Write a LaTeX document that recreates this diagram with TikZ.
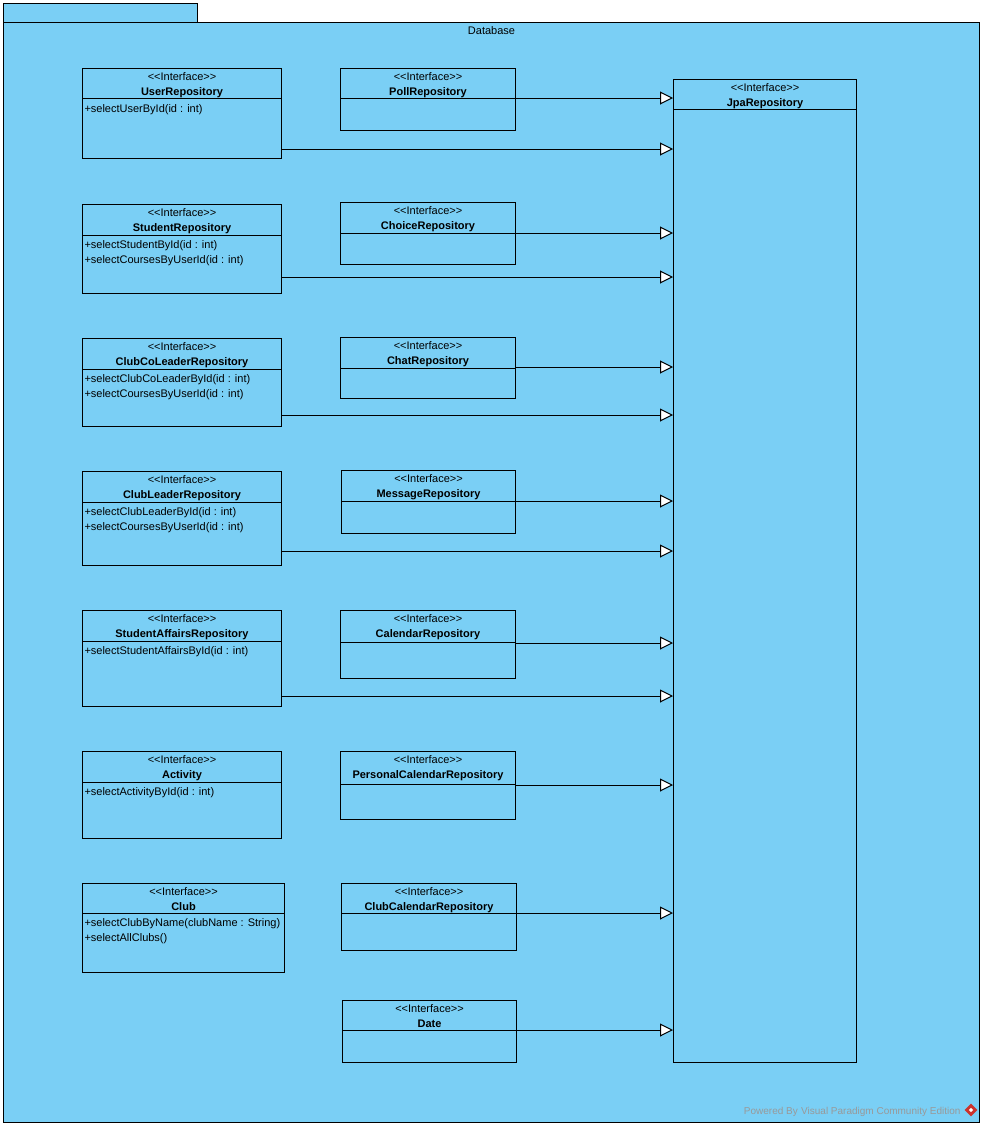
\documentclass[tikz,border=0pt]{standalone}
\usepackage{fontspec}
\setmainfont{Liberation Sans}
\usetikzlibrary{arrows.meta}
\definecolor{pkgblue}{RGB}{122,207,245}
\definecolor{vpred}{RGB}{204,51,45}
\newcommand{\ifacetag}{<\kern0pt<Interface>\kern0pt>}
\begin{document}
\begin{tikzpicture}[x=1pt, y=-1pt, line width=1pt,
  cls/.style = {draw, fill=pkgblue, anchor=north west, inner sep=0pt},
  stereo/.style = {anchor=base, inner sep=0pt, font=\fontsize{11}{13}\selectfont},
  cname/.style = {anchor=base, inner sep=0pt, font=\fontsize{11}{13}\selectfont\bfseries},
  op/.style = {anchor=base west, inner sep=0pt, font=\fontsize{11}{13}\selectfont},
  realize/.style = {-{Triangle[length=13pt, width=13pt, fill=white]}}]
  \useasboundingbox (0,0) rectangle (984,1127);
  % package
  \node[cls, minimum width=194, minimum height=19] (tab) at (3,3) {};
  \node[cls, minimum width=976, minimum height=1100] (db) at (3,22) {};
  \node[stereo] at ([yshift=-12]db.north) {Database};
  \node[anchor=base east, inner sep=0pt, text=black!40, font=\fontsize{10}{12}\selectfont] (vp) at (961,1114) {Powered By\,\,Visual Paradigm Community Edition};
  \node[draw=none, fill=vpred, rotate=45, minimum size=9, inner sep=0pt] (vplogo) at (971,1110) {};
  \node[draw=none, fill=white, rotate=45, minimum size=3, inner sep=0pt] at (vplogo.center) {};

  % JpaRepository
  \node[cls, minimum width=183, minimum height=983] (jpa) at (673,79) {};
  \node[stereo] at ([yshift=-12]jpa.north) {\ifacetag};
  \node[cname] at ([yshift=-27]jpa.north) {JpaRepository};
  \draw ([yshift=-30]jpa.north west) -- ([yshift=-30]jpa.north east);

  % left column
  \node[cls, minimum width=199, minimum height=90] (user) at (82,68) {};
  \node[stereo] at ([yshift=-12]user.north) {\ifacetag};
  \node[cname] at ([yshift=-27]user.north) {UserRepository};
  \draw ([yshift=-30]user.north west) -- ([yshift=-30]user.north east);
  \node[op] at ([xshift=2,yshift=-44]user.north west) {+selectUserById(id : int)};

  \node[cls, minimum width=199, minimum height=89] (student) at (82,204) {};
  \node[stereo] at ([yshift=-12]student.north) {\ifacetag};
  \node[cname] at ([yshift=-27]student.north) {StudentRepository};
  \draw ([yshift=-31]student.north west) -- ([yshift=-31]student.north east);
  \node[op] at ([xshift=2,yshift=-44]student.north west) {+selectStudentById(id : int)};
  \node[op] at ([xshift=2,yshift=-59]student.north west) {+selectCoursesByUserId(id : int)};

  \node[cls, minimum width=199, minimum height=88] (coleader) at (82,338) {};
  \node[stereo] at ([yshift=-12]coleader.north) {\ifacetag};
  \node[cname] at ([yshift=-27]coleader.north) {ClubCoLeaderRepository};
  \draw ([yshift=-31]coleader.north west) -- ([yshift=-31]coleader.north east);
  \node[op] at ([xshift=2,yshift=-44]coleader.north west) {+selectClubCoLeaderById(id : int)};
  \node[op] at ([xshift=2,yshift=-59]coleader.north west) {+selectCoursesByUserId(id : int)};

  \node[cls, minimum width=199, minimum height=94] (leader) at (82,471) {};
  \node[stereo] at ([yshift=-12]leader.north) {\ifacetag};
  \node[cname] at ([yshift=-27]leader.north) {ClubLeaderRepository};
  \draw ([yshift=-31]leader.north west) -- ([yshift=-31]leader.north east);
  \node[op] at ([xshift=2,yshift=-44]leader.north west) {+selectClubLeaderById(id : int)};
  \node[op] at ([xshift=2,yshift=-59]leader.north west) {+selectCoursesByUserId(id : int)};

  \node[cls, minimum width=199, minimum height=96] (affairs) at (82,610) {};
  \node[stereo] at ([yshift=-12]affairs.north) {\ifacetag};
  \node[cname] at ([yshift=-27]affairs.north) {StudentAffairsRepository};
  \draw ([yshift=-31]affairs.north west) -- ([yshift=-31]affairs.north east);
  \node[op] at ([xshift=2,yshift=-44]affairs.north west) {+selectStudentAffairsById(id : int)};

  \node[cls, minimum width=199, minimum height=87] (activity) at (82,751) {};
  \node[stereo] at ([yshift=-12]activity.north) {\ifacetag};
  \node[cname] at ([yshift=-27]activity.north) {Activity};
  \draw ([yshift=-31]activity.north west) -- ([yshift=-31]activity.north east);
  \node[op] at ([xshift=2,yshift=-44]activity.north west) {+selectActivityById(id : int)};

  \node[cls, minimum width=202, minimum height=89] (club) at (82,883) {};
  \node[stereo] at ([yshift=-12]club.north) {\ifacetag};
  \node[cname] at ([yshift=-27]club.north) {Club};
  \draw ([yshift=-30]club.north west) -- ([yshift=-30]club.north east);
  \node[op] at ([xshift=2,yshift=-43]club.north west) {+selectClubByName(clubName : String)};
  \node[op] at ([xshift=2,yshift=-58]club.north west) {+selectAllClubs()};

  % middle column
  \node[cls, minimum width=175, minimum height=62] (poll) at (340,68) {};
  \node[stereo] at ([yshift=-12]poll.north) {\ifacetag};
  \node[cname] at ([yshift=-27]poll.north) {PollRepository};
  \draw ([yshift=-30]poll.north west) -- ([yshift=-30]poll.north east);

  \node[cls, minimum width=175, minimum height=62] (choice) at (340,202) {};
  \node[stereo] at ([yshift=-12]choice.north) {\ifacetag};
  \node[cname] at ([yshift=-27]choice.north) {ChoiceRepository};
  \draw ([yshift=-31]choice.north west) -- ([yshift=-31]choice.north east);

  \node[cls, minimum width=175, minimum height=61] (chat) at (340,337) {};
  \node[stereo] at ([yshift=-12]chat.north) {\ifacetag};
  \node[cname] at ([yshift=-27]chat.north) {ChatRepository};
  \draw ([yshift=-31]chat.north west) -- ([yshift=-31]chat.north east);

  \node[cls, minimum width=174, minimum height=63] (message) at (341,470) {};
  \node[stereo] at ([yshift=-12]message.north) {\ifacetag};
  \node[cname] at ([yshift=-27]message.north) {MessageRepository};
  \draw ([yshift=-31]message.north west) -- ([yshift=-31]message.north east);

  \node[cls, minimum width=175, minimum height=68] (calendar) at (340,610) {};
  \node[stereo] at ([yshift=-12]calendar.north) {\ifacetag};
  \node[cname] at ([yshift=-27]calendar.north) {CalendarRepository};
  \draw ([yshift=-32]calendar.north west) -- ([yshift=-32]calendar.north east);

  \node[cls, minimum width=175, minimum height=68] (personal) at (340,751) {};
  \node[stereo] at ([yshift=-12]personal.north) {\ifacetag};
  \node[cname] at ([yshift=-27]personal.north) {PersonalCalendarRepository};
  \draw ([yshift=-33]personal.north west) -- ([yshift=-33]personal.north east);

  \node[cls, minimum width=175, minimum height=67] (clubcal) at (341,883) {};
  \node[stereo] at ([yshift=-12]clubcal.north) {\ifacetag};
  \node[cname] at ([yshift=-27]clubcal.north) {ClubCalendarRepository};
  \draw ([yshift=-30]clubcal.north west) -- ([yshift=-30]clubcal.north east);

  \node[cls, minimum width=174, minimum height=62] (date) at (342,1000) {};
  \node[stereo] at ([yshift=-12]date.north) {\ifacetag};
  \node[cname] at ([yshift=-27]date.north) {Date};
  \draw ([yshift=-30]date.north west) -- ([yshift=-30]date.north east);

  % realizations
  \coordinate (pollout) at ([yshift=-30]poll.north east);
  \coordinate (userout) at ([yshift=10]user.south east);
  \coordinate (choiceout) at ([yshift=-31]choice.north east);
  \coordinate (studentout) at ([yshift=17]student.south east);
  \coordinate (chatout) at ([yshift=-30]chat.north east);
  \coordinate (coleaderout) at ([yshift=12]coleader.south east);
  \coordinate (messageout) at ([yshift=-31]message.north east);
  \coordinate (leaderout) at ([yshift=15]leader.south east);
  \coordinate (calendarout) at ([yshift=-33]calendar.north east);
  \coordinate (affairsout) at ([yshift=11]affairs.south east);
  \coordinate (personalout) at ([yshift=-34]personal.north east);
  \coordinate (clubcalout) at ([yshift=-30]clubcal.north east);
  \coordinate (dateout) at ([yshift=-30]date.north east);
  \draw[realize] (pollout) -- (pollout -| jpa.west);
  \draw[realize] (userout) -- (userout -| jpa.west);
  \draw[realize] (choiceout) -- (choiceout -| jpa.west);
  \draw[realize] (studentout) -- (studentout -| jpa.west);
  \draw[realize] (chatout) -- (chatout -| jpa.west);
  \draw[realize] (coleaderout) -- (coleaderout -| jpa.west);
  \draw[realize] (messageout) -- (messageout -| jpa.west);
  \draw[realize] (leaderout) -- (leaderout -| jpa.west);
  \draw[realize] (calendarout) -- (calendarout -| jpa.west);
  \draw[realize] (affairsout) -- (affairsout -| jpa.west);
  \draw[realize] (personalout) -- (personalout -| jpa.west);
  \draw[realize] (clubcalout) -- (clubcalout -| jpa.west);
  \draw[realize] (dateout) -- (dateout -| jpa.west);
\end{tikzpicture}
\end{document}
